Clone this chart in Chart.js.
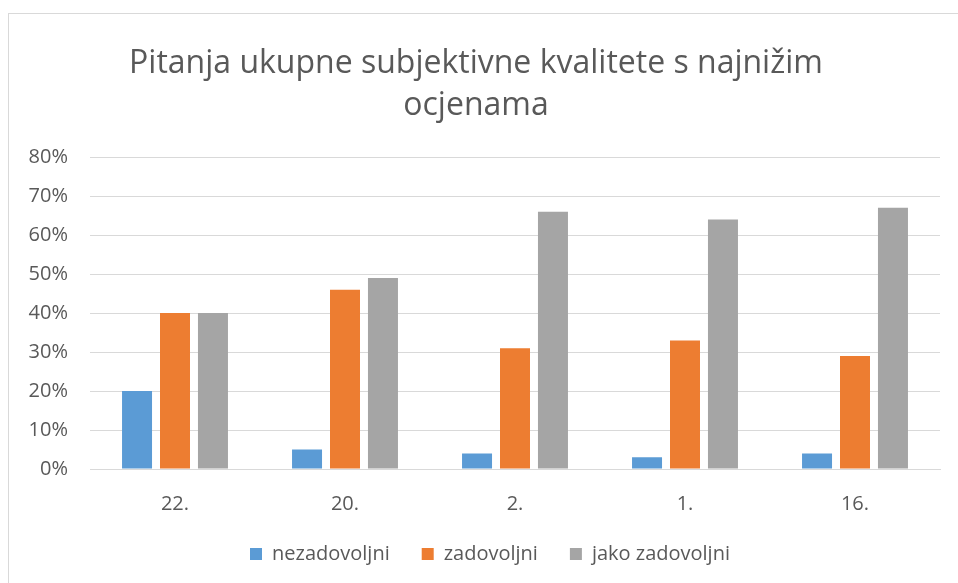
<!DOCTYPE html>
<html>
<head>
<meta charset="utf-8">
<script src="https://cdn.jsdelivr.net/npm/chart.js@4"></script>
<style>
  html, body { margin: 0; padding: 0; background: #fff; }
  #frame { position: absolute; left: 8px; top: 13px; width: 1000px; height: 700px; border: 1px solid #d9d9d9; }
  #wrap { position: absolute; left: 0; top: 0; width: 958px; height: 583px; }
</style>
</head>
<body>
<div id="frame"></div>
<div id="wrap"><canvas id="myChart"></canvas></div>
<script>
let labels = ['22.', '20.', '2.', '1.', '16.'];
let nezadovoljni = [20, 5, 4, 3, 4];
let zadovoljni = [40, 46, 31, 33, 29];
let jakoZadovoljni = [40, 49, 66, 64, 67];
let seriesNames = ['nezadovoljni', 'zadovoljni', 'jako zadovoljni'];
let colors = ['#5B9BD5', '#ED7D31', '#A5A5A5'];
let yTicks = [0, 10, 20, 30, 40, 50, 60, 70, 80];

let textColor = '#595959';
let fontFamily = "'Open Sans', sans-serif";

// legend in the original sits a bit right of the canvas centre
let shiftLegend = {
    id: 'shiftLegend',
    afterLayout: chart => {
        chart.legend.left += 14;
        chart.legend.right += 14;
    }
};

let ctx = document.getElementById('myChart').getContext('2d');

let chart = new Chart(ctx, {
    type: 'bar',
    data: {
        labels: labels,
        datasets: [nezadovoljni, zadovoljni, jakoZadovoljni].map((d, i) => ({
            label: seriesNames[i],
            data: d,
            backgroundColor: colors[i],
            barPercentage: 0.79,
            categoryPercentage: 0.67
        }))
    },
    options: {
        responsive: true,
        maintainAspectRatio: false,
        animation: false,
        layout: { padding: { left: 12, right: 18, top: 43, bottom: 9 } },
        plugins: {
            title: {
                display: true,
                text: ['Pitanja ukupne subjektivne kvalitete s najnižim', 'ocjenama'],
                color: textColor,
                font: { family: fontFamily, size: 32, weight: 'normal', lineHeight: 1.3 },
                padding: { top: 0, bottom: 31 }
            },
            legend: {
                position: 'bottom',
                labels: {
                    color: textColor,
                    font: { family: fontFamily, size: 20 },
                    boxWidth: 12,
                    boxHeight: 12,
                    padding: 32
                }
            },
            tooltip: { enabled: false }
        },
        scales: {
            x: {
                afterFit: s => { s.height = 43; },
                grid: { display: false },
                border: { color: '#d9d9d9' },
                ticks: { color: textColor, font: { family: fontFamily, size: 20 }, padding: 15 }
            },
            y: {
                min: 0,
                max: 80,
                afterFit: s => { s.width = 78; },
                afterBuildTicks: s => { s.ticks = yTicks.map(v => ({ value: v })); },
                grid: { color: '#d9d9d9', drawTicks: false },
                border: { display: false },
                ticks: {
                    color: textColor,
                    font: { family: fontFamily, size: 20 },
                    padding: 22,
                    callback: v => v + '%'
                }
            }
        }
    },
    plugins: [shiftLegend]
});
</script>
</body>
</html>
